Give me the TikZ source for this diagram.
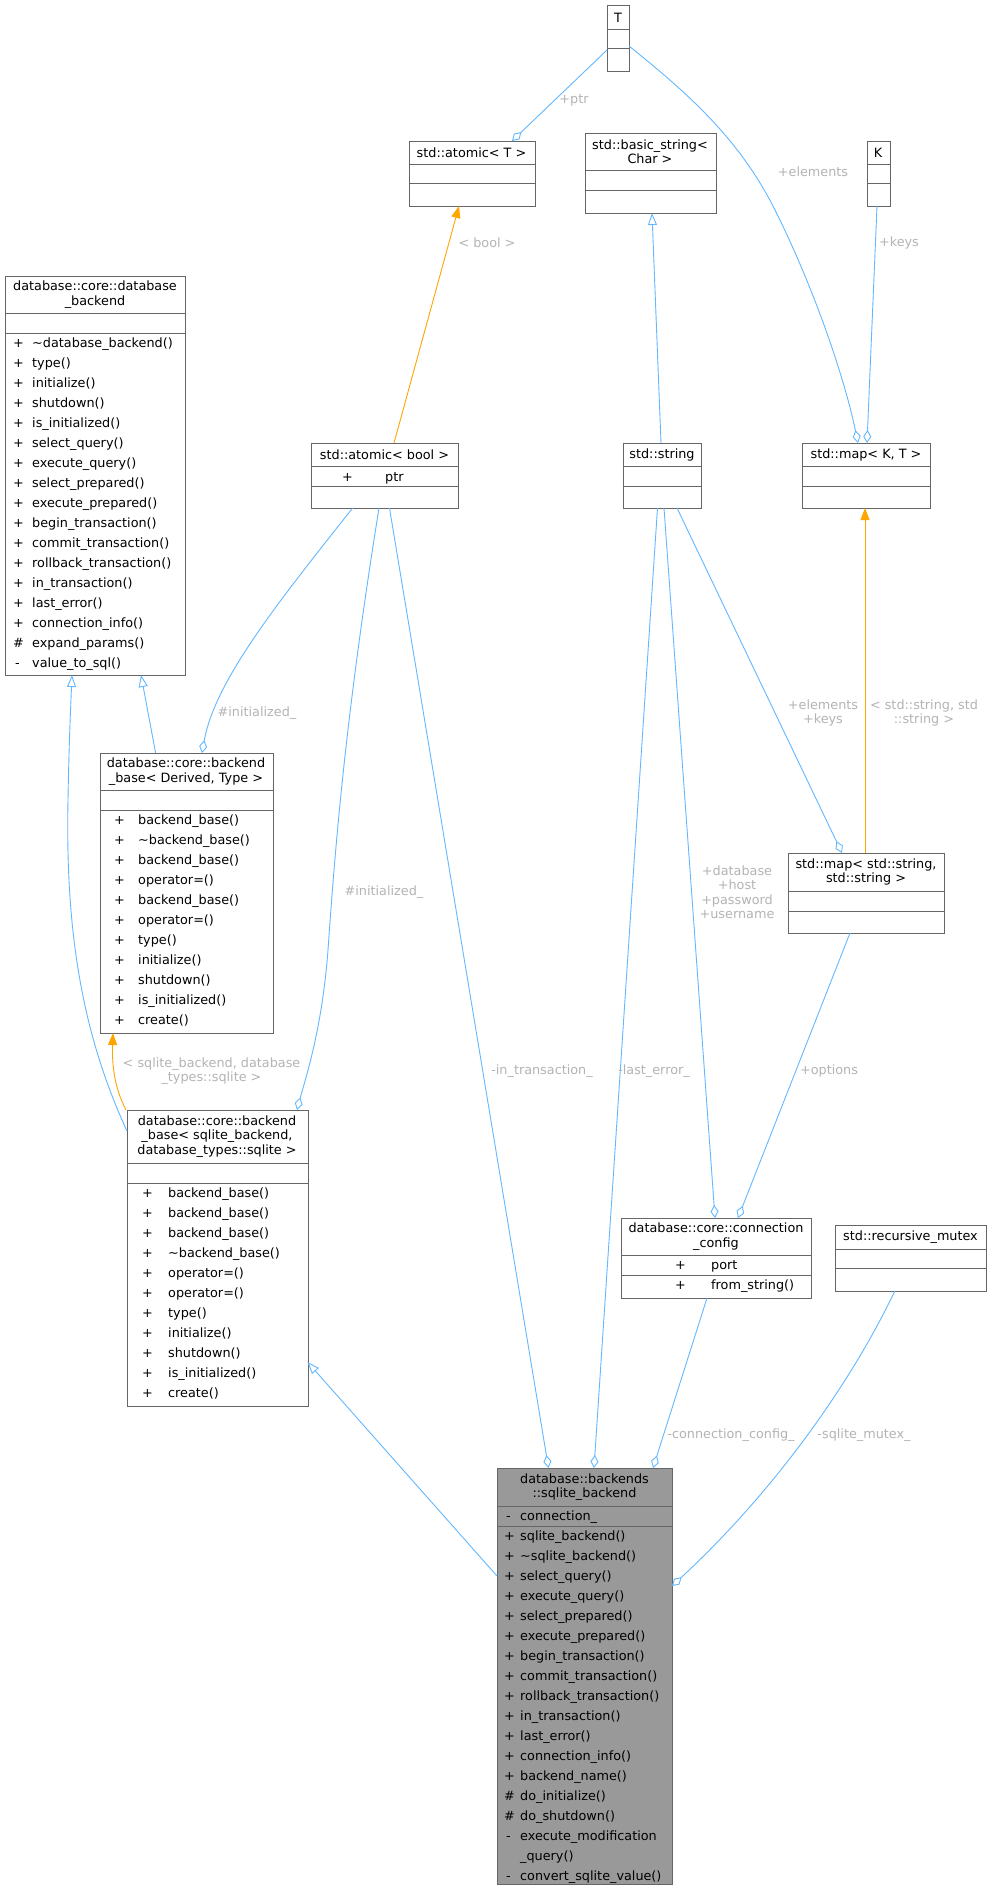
\documentclass[tikz,border=0pt]{standalone}
\usepackage{fontspec}
\setmainfont{DejaVu Sans}
\usetikzlibrary{arrows.meta}
\definecolor{edgeb}{HTML}{63B8FF}
\definecolor{edgeo}{HTML}{FFA500}
\definecolor{bord}{HTML}{666666}
\definecolor{lbl}{HTML}{B4B4B4}
\definecolor{selfill}{HTML}{999999}
\newcounter{rc}
\tikzset{
  box/.style={draw=bord,line width=1pt,fill=white},
  sel/.style={draw=bord,line width=1pt,fill=selfill},
  ttl/.style={align=center,inner sep=0pt,font=\fontsize{12.8}{14.5}\selectfont},
  mem/.style={anchor=base west,inner sep=0pt,font=\fontsize{12.8}{14.5}\selectfont},
  lab/.style={text=lbl,align=center,inner sep=0pt,font=\fontsize{12.8}{14.5}\selectfont},
  ln/.style={edgeb,line width=0.9pt},
  agg/.style={ln,-{Diamond[open,fill=white,length=13pt,width=8pt]}},
  inh/.style={ln,-{Triangle[open,fill=white,length=12pt,width=9pt]}},
  tpl/.style={edgeo,line width=0.9pt,-{Triangle[length=12pt,width=9pt]}},
}
% \umlrow{xsym}{xtext}{ycenter}{sym}{text}
\newcommand{\umlrow}[5]{\stepcounter{rc}%
  \node[mem] (s\arabic{rc}) at (#1,#3+4.5) {#4};
  \node[mem] (t\arabic{rc}) at (#2,#3+4.5) {#5};}
\newcommand{\umlbox}[7][box]{% name x1 y1 x2 y2 d1 d2
  \node[#1,minimum width={(#5-#3)*1pt},minimum height={(#6-#4)*1pt},inner sep=0pt,anchor=north west] (#2) at (#3,#4) {};
  \draw[bord,line width=1pt] (#3,#7) -- (#5,#7);}
\begin{document}
\begin{tikzpicture}[x=1pt,y=-1pt]
\useasboundingbox (0,0) rectangle (991,1888);
\fill[white] (0,0) rectangle (991,1888);

% ---- boxes ----
\newcommand{\dvd}[3]{\draw[bord,line width=1pt] (#1,#3) -- (#2,#3);}
\umlbox{T}{607}{5}{629}{70.5}{29}\dvd{607}{629}{48}
\node[ttl] (Tt) at (618,17.5) {T};
\umlbox{atT}{408.5}{141}{534.5}{206}{164}\dvd{408.5}{534.5}{183.5}
\node[ttl] (atTt) at (471.5,153) {std::atomic< T >};
\umlbox{bs}{584.5}{133}{715.5}{213}{170}\dvd{584.5}{715.5}{190.6}
\node[ttl] (bst) at (650,151.5) {std::basic\_string<\\Char >};
\umlbox{K}{866.6}{141}{889.5}{206}{164}\dvd{866.6}{889.5}{183.5}
\node[ttl] (Kt) at (878,153) {K};

\umlbox{db}{5}{276}{185}{675}{313}\dvd{5}{185}{333}
\node[ttl] (dbt) at (95,294.5) {database::core::database\\\_backend};
\foreach \m [count=\i from 0] in {+/\textasciitilde database\_backend(),+/type(),+/initialize(),+/shutdown(),+/is\_initialized(),+/select\_query(),+/execute\_query(),+/select\_prepared(),+/execute\_prepared(),+/begin\_transaction(),+/commit\_transaction(),+/rollback\_transaction(),+/in\_transaction(),+/last\_error(),+/connection\_info(),\#/expand\_params(),-/value\_to\_sql()}{}
\newcommand{\rows}[4]{}% placeholder
\umlrow{13}{32}{343}{+}{\textasciitilde database\_backend()}
\umlrow{13}{32}{363}{+}{type()}
\umlrow{13}{32}{383}{+}{initialize()}
\umlrow{13}{32}{403}{+}{shutdown()}
\umlrow{13}{32}{423}{+}{is\_initialized()}
\umlrow{13}{32}{443}{+}{select\_query()}
\umlrow{13}{32}{463}{+}{execute\_query()}
\umlrow{13}{32}{483}{+}{select\_prepared()}
\umlrow{13}{32}{503}{+}{execute\_prepared()}
\umlrow{13}{32}{523}{+}{begin\_transaction()}
\umlrow{13}{32}{543}{+}{commit\_transaction()}
\umlrow{13}{32}{563}{+}{rollback\_transaction()}
\umlrow{13}{32}{583}{+}{in\_transaction()}
\umlrow{13}{32}{603}{+}{last\_error()}
\umlrow{13}{32}{623}{+}{connection\_info()}
\umlrow{13}{32}{643}{\#}{expand\_params()}
\umlrow{15}{32}{663}{-}{value\_to\_sql()}

\umlbox{ab}{311}{443}{458}{508}{466.5}\dvd{311}{458}{486.6}
\node[ttl] (abt) at (384.5,455) {std::atomic< bool >};
\umlrow{342}{385}{476.5}{+}{ptr}
\umlbox{str}{622.6}{443}{701.4}{508}{466.5}\dvd{622.6}{701.4}{486.6}
\node[ttl] (strt) at (662,455) {std::string};
\umlbox{mKT}{802.4}{443}{929.5}{508}{466.5}\dvd{802.4}{929.5}{486.6}
\node[ttl] (mKTt) at (866,455) {std::map< K, T >};

\umlbox{der}{100}{753}{272.5}{1033}{790.6}\dvd{100}{272.5}{810}
\node[ttl] (dert) at (186,771.5) {database::core::backend\\\_base< Derived, Type >};
\umlrow{114}{138}{820}{+}{backend\_base()}
\umlrow{114}{138}{840}{+}{\textasciitilde backend\_base()}
\umlrow{114}{138}{860}{+}{backend\_base()}
\umlrow{114}{138}{880}{+}{operator=()}
\umlrow{114}{138}{900}{+}{backend\_base()}
\umlrow{114}{138}{920}{+}{operator=()}
\umlrow{114}{138}{940}{+}{type()}
\umlrow{114}{138}{960}{+}{initialize()}
\umlrow{114}{138}{980}{+}{shutdown()}
\umlrow{114}{138}{1000}{+}{is\_initialized()}
\umlrow{114}{138}{1020}{+}{create()}

\umlbox{bsq}{127}{1110}{307.5}{1406}{1163}\dvd{127}{307.5}{1183}
\node[ttl] (bsqt) at (217,1136.5) {database::core::backend\\\_base< sqlite\_backend,\\database\_types::sqlite >};
\umlrow{142}{168}{1193}{+}{backend\_base()}
\umlrow{142}{168}{1213}{+}{backend\_base()}
\umlrow{142}{168}{1233}{+}{backend\_base()}
\umlrow{142}{168}{1253}{+}{\textasciitilde backend\_base()}
\umlrow{142}{168}{1273}{+}{operator=()}
\umlrow{142}{168}{1293}{+}{operator=()}
\umlrow{142}{168}{1313}{+}{type()}
\umlrow{142}{168}{1333}{+}{initialize()}
\umlrow{142}{168}{1353}{+}{shutdown()}
\umlrow{142}{168}{1373}{+}{is\_initialized()}
\umlrow{142}{168}{1393}{+}{create()}

\umlbox{mss}{788}{853}{943.5}{933}{891}\dvd{788}{943.5}{911}
\node[ttl] (msst) at (866,872) {std::map< std::string,\\std::string >};

\umlbox{cfg}{621}{1218}{811}{1298}{1255}\dvd{621}{811}{1275}
\node[ttl] (cfgt) at (716,1236.5) {database::core::connection\\\_config};
\umlrow{675}{711}{1265}{+}{port}
\umlrow{675}{711}{1285}{+}{from\_string()}

\umlbox{mtx}{835}{1225}{986}{1290.7}{1249}\dvd{835}{986}{1268}
\node[ttl] (mtxt) at (910.5,1237.5) {std::recursive\_mutex};

\umlbox[sel]{sq}{497}{1468}{672}{1884}{1506}\dvd{497}{672}{1526}
\node[ttl] (sqt) at (584.5,1487) {database::backends\\::sqlite\_backend};
\umlrow{506}{520}{1516}{-}{connection\_}
\umlrow{504}{520}{1536}{+}{sqlite\_backend()}
\umlrow{504}{520}{1556}{+}{\textasciitilde sqlite\_backend()}
\umlrow{504}{520}{1576}{+}{select\_query()}
\umlrow{504}{520}{1596}{+}{execute\_query()}
\umlrow{504}{520}{1616}{+}{select\_prepared()}
\umlrow{504}{520}{1636}{+}{execute\_prepared()}
\umlrow{504}{520}{1656}{+}{begin\_transaction()}
\umlrow{504}{520}{1676}{+}{commit\_transaction()}
\umlrow{504}{520}{1696}{+}{rollback\_transaction()}
\umlrow{504}{520}{1716}{+}{in\_transaction()}
\umlrow{504}{520}{1736}{+}{last\_error()}
\umlrow{504}{520}{1756}{+}{connection\_info()}
\umlrow{504}{520}{1776}{+}{backend\_name()}
\umlrow{504}{520}{1796}{\#}{do\_initialize()}
\umlrow{504}{520}{1816}{\#}{do\_shutdown()}
\umlrow{506}{520}{1836}{-}{execute\_modification}
\node[mem] (sqx) at (520,1856+4.5) {\_query()};
\umlrow{506}{520}{1876}{-}{convert\_sqlite\_value()}

% ---- attachment points ----
\coordinate (p1a) at (607,50);   \coordinate (p1b) at (512,141);
\coordinate (p2a) at (629,46);   \coordinate (p2b) at (858,443);
\coordinate (p3a) at (877,206);  \coordinate (p3b) at (867,443);
\coordinate (p4a) at (394,443);  \coordinate (p4b) at (459,206);
\coordinate (p5a) at (661,443);  \coordinate (p5b) at (652,213);
\coordinate (p6a) at (865,853);  \coordinate (p6b) at (865,508);
\coordinate (p7a) at (677,508);  \coordinate (p7b) at (842,853);
\coordinate (p8a) at (664,508);  \coordinate (p8b) at (715,1218);
\coordinate (p9a) at (850,933);  \coordinate (p9b) at (738,1218);
\coordinate (p10a) at (657.5,508); \coordinate (p10b) at (594,1468);
\coordinate (p11a) at (389.5,508); \coordinate (p11b) at (548.5,1468);
\coordinate (p12a) at (707,1298); \coordinate (p12b) at (653,1468);
\coordinate (p13a) at (895,1290.7); \coordinate (p13b) at (672,1586);
\coordinate (p14a) at (497,1576); \coordinate (p14b) at (307.5,1362);
\coordinate (p15a) at (155.6,753); \coordinate (p15b) at (141,675);
\coordinate (p16a) at (127,1131); \coordinate (p16b) at (72,675);
\coordinate (p17a) at (352.6,508); \coordinate (p17b) at (202,753);
\coordinate (p18a) at (379,508); \coordinate (p18b) at (297,1110);
\coordinate (p19a) at (126,1110); \coordinate (p19b) at (113,1033);

% ---- edges ----
\draw[agg] (p1a) -- (p1b);
\draw[agg] (p2a) .. controls (690,95) and (740,140) .. (775,210) .. controls (815,290) and (845,380) .. (p2b);
\draw[agg] (p3a) -- (p3b);
\draw[tpl] (p4a) -- (p4b);
\draw[inh] (p5a) -- (p5b);
\draw[tpl] (p6a) -- (p6b);
\draw[agg] (p7a) -- (p7b);
\draw[agg] (p8a) -- (p8b);
\draw[agg] (p9a) -- (p9b);
\draw[agg] (p10a) -- (p10b);
\draw[agg] (p11a) -- (p11b);
\draw[agg] (p12a) -- (p12b);
\draw[agg] (p13a) .. controls (845,1395) and (765,1500) .. (p13b);
\draw[inh] (p14a) -- (p14b);
\draw[inh] (p15a) -- (p15b);
\draw[inh] (p16a) .. controls (85,1040) and (65,940) .. (68,800) .. controls (69,740) and (71,700) .. (p16b);
\draw[agg] (p17a) .. controls (280,600) and (215,680) .. (p17b);
\draw[agg] (p18a) .. controls (345,720) and (335,850) .. (328,950) .. controls (322,1030) and (305,1080) .. (p18b);
\draw[tpl] (p19a) .. controls (113,1085) and (112,1060) .. (p19b);

% ---- labels ----
\node[lab] (l1) at (574,100) {+ptr};
\node[lab] (l2) at (813,172) {+elements};
\node[lab] (l3) at (899,243) {+keys};
\node[lab] (l4) at (487,243) {< bool >};
\node[lab] (l6) at (924,713) {< std::string, std\\::string >};
\node[lab] (l7) at (823,713) {+elements\\+keys};
\node[lab] (l8) at (737,892) {+database\\+host\\+password\\+username};
\node[lab] (l9) at (829,1071) {+options};
\node[lab] (l10) at (654,1071) {-last\_error\_};
\node[lab] (l11) at (542,1071) {-in\_transaction\_};
\node[lab] (l12) at (731,1435) {-connection\_config\_};
\node[lab] (l13) at (864,1435) {-sqlite\_mutex\_};
\node[lab] (l17) at (257,713) {\#initialized\_};
\node[lab] (l18) at (384,892) {\#initialized\_};
\node[lab] (l19) at (211.5,1071) {< sqlite\_backend, database\\\_types::sqlite >};
\end{tikzpicture}
\end{document}
